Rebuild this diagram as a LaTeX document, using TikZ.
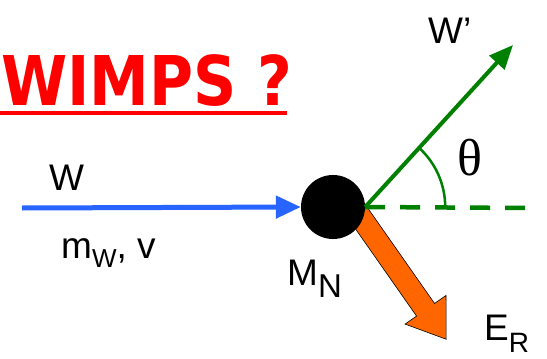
\documentclass[tikz,border=0pt]{standalone}
\usepackage{fontspec}
\setmainfont{Liberation Sans}
\newfontfamily\titlefont{DejaVu Sans}
\newfontfamily\serifgr{Liberation Serif}
\usetikzlibrary{arrows.meta}
\definecolor{wblue}{RGB}{40,100,255}
\definecolor{wgreen}{RGB}{0,128,0}
\definecolor{worange}{RGB}{255,102,0}
\definecolor{wred}{RGB}{255,0,0}
\tikzset{
  lbl/.style={inner sep=0pt, anchor=base west, font=\fontsize{37}{37}\selectfont},
}
\begin{document}
\begin{tikzpicture}[x=1pt,y=-1pt]
\useasboundingbox (0,0) rectangle (547,359);
% title
\node[inner sep=0pt, anchor=base west, text=wred] (title) at (1,105)
  {\scalebox{0.875}[1]{\titlefont\bfseries\fontsize{68.6}{70}\selectfont WIMPS ?}};
\coordinate (ul0) at (0,113);
\coordinate (ul1) at (287,113);
\draw[wred, line width=4.5pt] (ul0) -- (ul1);
% orange recoil arrow
\coordinate (erStart) at (355,209);
\begin{scope}[shift={(erStart)}, rotate=-55]
  \filldraw[fill=worange, draw=black, line width=0.6pt]
    (0,-11) -- (123,-11) -- (123,-25) -- (159,0) -- (123,25) -- (123,11) -- (0,11) -- cycle;
\end{scope}
% nucleus
\node[circle, fill=black, minimum size=64pt, inner sep=0pt] (N) at (333,207) {};
% incoming WIMP
\coordinate (win) at (22,208);
\draw[wblue, line width=5pt, -{Triangle[length=25pt,width=22pt]}] (win) -- (N.west);
% outgoing
\coordinate (wout) at (513,45);
\coordinate (dend) at (530,208);
\draw[wgreen, line width=4pt, -{Triangle[length=24pt,width=20pt]}] (N.east) -- (wout);
\draw[wgreen, line width=4.5pt, dash pattern=on 20pt off 15pt] (N.east) -- (dend);
\draw[wgreen, line width=2.5pt] (N.east) ++(80pt,0) arc[start angle=0, end angle=48, radius=80pt];
% labels
\node[lbl] (lw) at (49,190) {W};
\node[lbl] (lm) at (61,258) {m\raisebox{-9pt}{\fontsize{26}{26}\selectfont W}, v};
\node[lbl] (lmn) at (287,285) {M\raisebox{-12pt}{\fontsize{33}{33}\selectfont N}};
\node[lbl] (ler) at (484,340) {E\raisebox{-12pt}{\fontsize{28}{28}\selectfont R}};
\node[lbl] (lwp) at (428,43) {W'};
\node[inner sep=0pt, font=\serifgr\fontsize{52}{52}\selectfont] (th) at (470,158) {θ};
\end{tikzpicture}
\end{document}
